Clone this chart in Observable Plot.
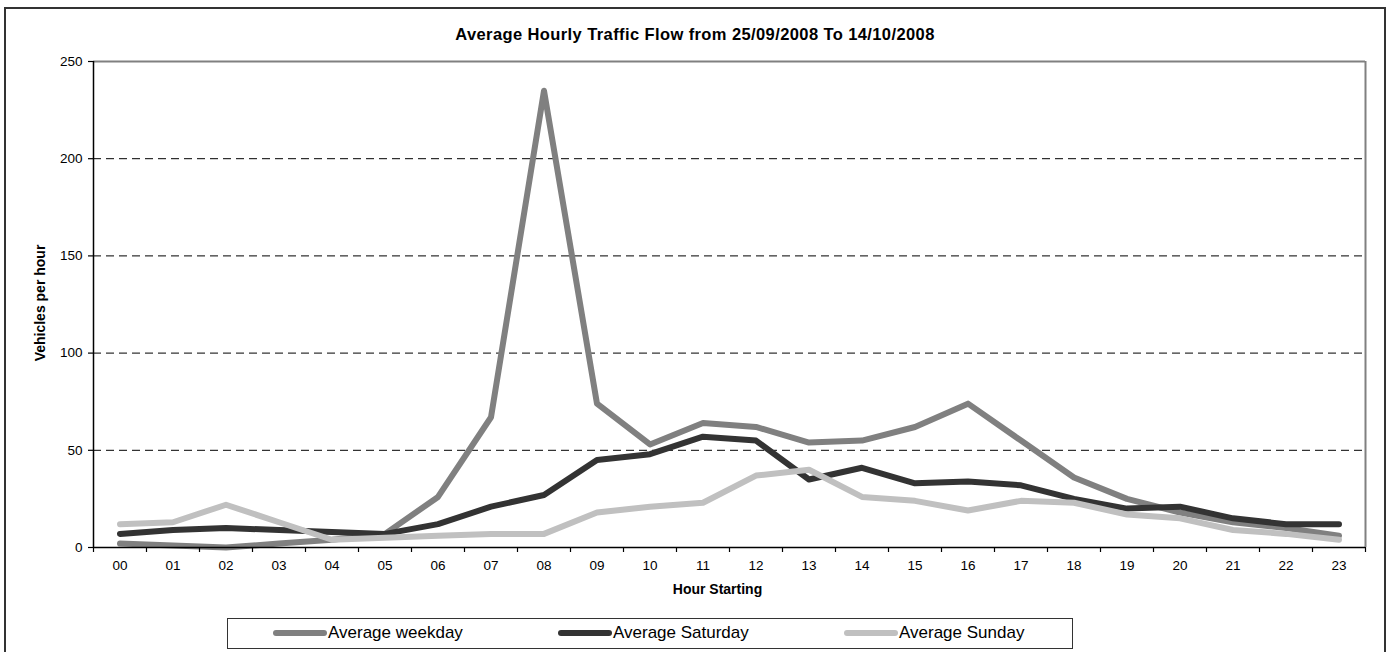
<!DOCTYPE html>
<html>
<head>
<meta charset="utf-8">
<script src="https://cdn.jsdelivr.net/npm/d3@7"></script>
<script src="https://cdn.jsdelivr.net/npm/@observablehq/plot@0.6"></script>
<style>
  body { margin: 0; background: #fff; }
  #wrap { position: relative; width: 1392px; height: 652px; overflow: hidden; font-family: "Liberation Sans", Arial, sans-serif; }
  #frame { position: absolute; left: 4px; top: 7px; width: 1382px; height: 700px; border: 2px solid #333; box-sizing: border-box; }
  #title { position: absolute; left: 0; width: 1390px; top: 25px; text-align: center; font-weight: bold; font-size: 16.5px; letter-spacing: 0.4px; color: #000; }
  #ylab { position: absolute; left: 40px; top: 303px; transform: translate(-50%, -50%) rotate(-90deg); font-weight: bold; font-size: 14px; white-space: nowrap; }
  #xlab { position: absolute; left: 0; width: 1435px; top: 581px; text-align: center; font-weight: bold; font-size: 14px; }
  #legend { position: absolute; left: 227px; top: 618px; width: 846px; height: 31px; border: 1.5px solid #333; box-sizing: border-box; }
  .item { position: absolute; top: 0; height: 28px; display: flex; align-items: center; font-size: 17px; white-space: nowrap; }
  .sw { display: inline-block; width: 54px; height: 6px; border-radius: 3px; margin-right: 1px; }
  #plot { position: absolute; left: 0; top: 0; }
</style>
</head>
<body>
<div id="wrap">
  <div id="frame"></div>
  <div id="plot"></div>
  <div id="title"></div>
  <div id="ylab"></div>
  <div id="xlab"></div>
  <div id="legend"></div>
</div>
<script>
const title = "Average Hourly Traffic Flow from 25/09/2008 To 14/10/2008";
const yLabel = "Vehicles per hour";
const xLabel = "Hour Starting";
const hours = ["00","01","02","03","04","05","06","07","08","09","10","11","12","13","14","15","16","17","18","19","20","21","22","23"];
const weekday  = [2, 1, 0, 2, 4, 7, 26, 67, 235, 74, 53, 64, 62, 54, 55, 62, 74, 55, 36, 25, 18, 13, 10, 6];
const saturday = [7, 9, 10, 9, 8, 7, 12, 21, 27, 45, 48, 57, 55, 35, 41, 33, 34, 32, 25, 20, 21, 15, 12, 12];
const sunday   = [12, 13, 22, 13, 4, 5, 6, 7, 7, 18, 21, 23, 37, 40, 26, 24, 19, 24, 23, 17, 15, 9, 7, 4];
const seriesNames = ["Average weekday", "Average Saturday", "Average Sunday"];
const seriesColors = ["#808080", "#333333", "#c0c0c0"];
const yTicks = [0, 50, 100, 150, 200, 250];

const series = [weekday, saturday, sunday];
const rows = series.flatMap((vals, s) => vals.map((v, i) => ({hour: i, value: v, s})));
const boundaries = d3.range(hours.length + 1).map(i => i - 0.5);

const chart = Plot.plot({
  width: 1392,
  height: 652,
  marginLeft: 93,
  marginRight: 27,
  marginTop: 61,
  marginBottom: 105,
  style: {fontFamily: '"Liberation Sans", Arial, sans-serif', background: "transparent", color: "#000"},
  x: {type: "linear", domain: [-0.5, hours.length - 0.5]},
  y: {domain: [0, 250]},
  marks: [
    Plot.ruleY(yTicks.filter(d => d > 0 && d < 250), {stroke: "#000", strokeWidth: 1, strokeDasharray: "8,5"}),
    Plot.ruleY([250], {stroke: "#808080", strokeWidth: 2}),
    Plot.ruleX([hours.length - 0.5], {stroke: "#808080", strokeWidth: 2}),
    ...series.map((vals, s) => Plot.line(rows.filter(r => r.s === s), {
      x: "hour", y: "value", stroke: seriesColors[s], strokeWidth: 6,
      strokeLinecap: "round", strokeLinejoin: "round", curve: "linear"
    })),
    Plot.ruleX([-0.5], {stroke: "#000", strokeWidth: 1.5}),
    Plot.ruleY([0], {stroke: "#000", strokeWidth: 1.5}),
    Plot.axisY({ticks: yTicks, tickSize: 5, tickPadding: 6, fontSize: 13.5, label: null, strokeWidth: 1.2}),
    Plot.axisX({ticks: boundaries, tickSize: 5, tickFormat: () => "", label: null, strokeWidth: 1.2}),
    Plot.axisX({ticks: d3.range(hours.length), tickSize: 0, tickPadding: 13, fontSize: 13.5, tickFormat: i => hours[i], label: null})
  ]
});
document.getElementById("plot").appendChild(chart);

document.getElementById("title").textContent = title;
document.getElementById("ylab").textContent = yLabel;
document.getElementById("xlab").textContent = xLabel;

const legend = document.getElementById("legend");
const legendLeft = [45, 330, 616];
seriesNames.forEach((name, i) => {
  const item = document.createElement("div");
  item.className = "item";
  item.style.left = legendLeft[i] + "px";
  const sw = document.createElement("span");
  sw.className = "sw";
  sw.style.background = seriesColors[i];
  item.appendChild(sw);
  item.appendChild(document.createTextNode(name));
  legend.appendChild(item);
});
</script>
</body>
</html>
